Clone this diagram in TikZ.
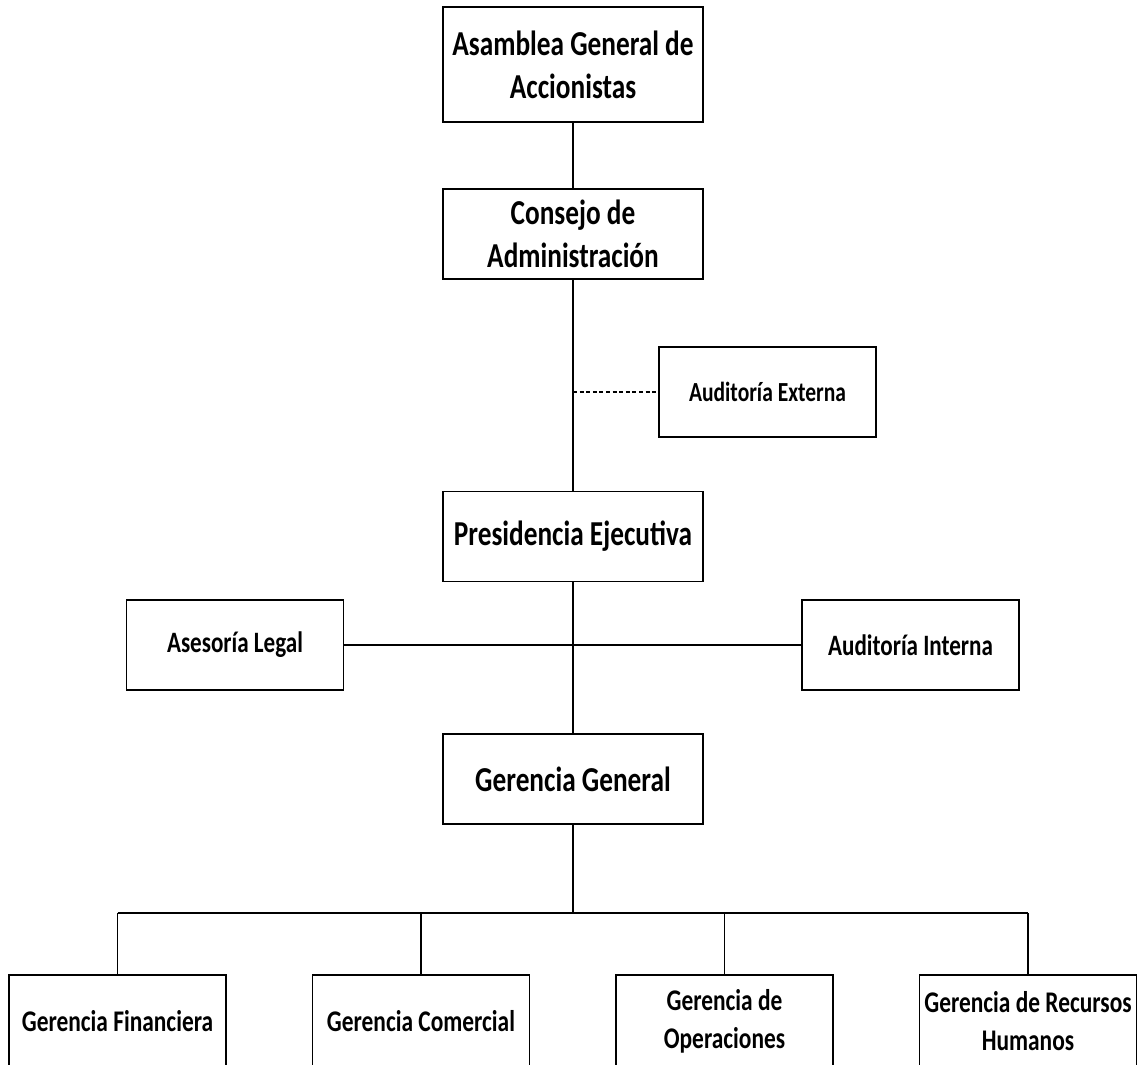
\documentclass[tikz,border=0pt]{standalone}
\usepackage{fontspec}
\setmainfont{Carlito}[FakeStretch=0.78]
\begin{document}
\begin{tikzpicture}[x=0.5pt,y=-0.5pt,
    cargo/.style={draw,line width=0.8pt,fill=white,align=center,inner sep=0pt,
      minimum width=108.5pt,minimum height=45pt,
      font=\bfseries\fontsize{14.8}{18}\selectfont},
    mayor/.style={cargo,minimum width=130pt,
      font=\bfseries\fontsize{17.5}{21.4}\selectfont},
    gerencia/.style={cargo,minimum height=46pt,
      font=\bfseries\fontsize{15}{19}\selectfont},
    enlace/.style={line width=0.6pt}]
  \path[use as bounding box,clip] (0,0) rectangle (1138,1064);
  % organos de gobierno
  \node[mayor,minimum height=57.5pt] (asamblea) at (573,64.5) {Asamblea General de\\Accionistas};
  \node[mayor] (consejo) at (573,234) {Consejo de\\Administración};
  \node[cargo,font=\bfseries\fontsize{13.8}{17}\selectfont] (externa) at (767.5,392) {Auditoría Externa};
  \node[mayor] (presidencia) at (573,536.5) {Presidencia Ejecutiva};
  \node[cargo] (legal) at (235,645) {Asesoría Legal};
  \node[cargo] (interna) at (910.5,645) {Auditoría Interna};
  \node[mayor] (general) at (573,779) {Gerencia General};
  % gerencias de area
  \node[gerencia] (financiera) at (117.5,1021) {Gerencia Financiera};
  \node[gerencia] (comercial) at (421,1021) {Gerencia Comercial};
  \node[gerencia] (operaciones) at (724.5,1021) {Gerencia de\\Operaciones};
  \node[gerencia] (rrhh) at (1028,1021) {Gerencia de Recursos\\Humanos};
  \coordinate (junta) at (573,392);
  \coordinate (bus) at (573,913);
  % lineas
  \draw[enlace] (asamblea) -- (consejo);
  \draw[enlace] (consejo) -- (presidencia);
  \draw[enlace,dash pattern=on 2pt off 1.3pt] (junta) -- (externa);
  \draw[enlace] (presidencia) -- (general);
  \draw[enlace] (legal) -- (interna);
  \draw[enlace] (general) -- (bus);
  \draw[enlace] (financiera.north |- bus) -- (rrhh.north |- bus);
  \foreach \g in {financiera,comercial,operaciones,rrhh}
    \draw[enlace] (\g.north |- bus) -- (\g);
\end{tikzpicture}
\end{document}
